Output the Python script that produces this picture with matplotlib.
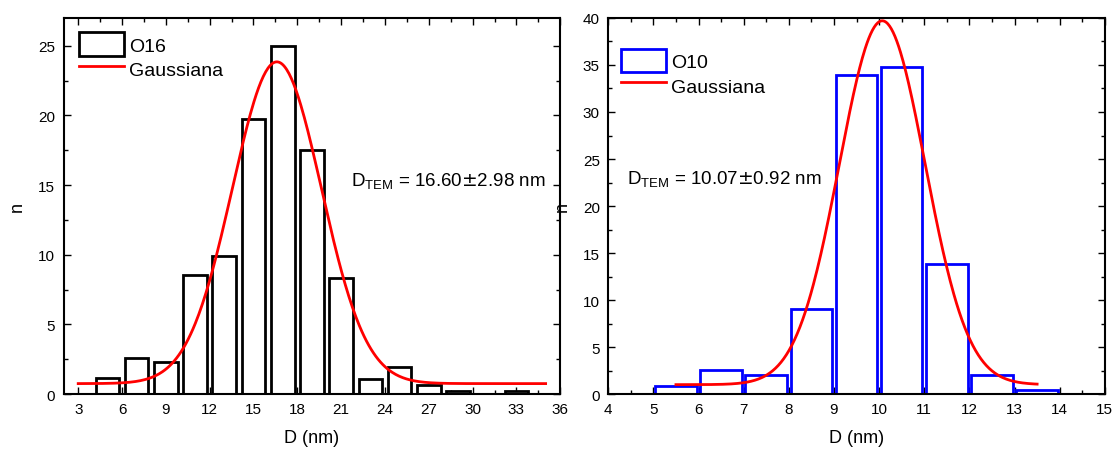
import numpy as np
import matplotlib
matplotlib.use('Agg')
import matplotlib.pyplot as plt
from matplotlib.patches import Patch
from matplotlib.lines import Line2D
from matplotlib.ticker import MultipleLocator

plt.rcParams['font.family'] = ['Liberation Sans', 'DejaVu Sans']

# O16 histogram (bin centres, counts)
o16_centres = [5, 7, 9, 11, 13, 15, 17, 19, 21, 23, 25, 27, 29, 31, 33]
o16_counts = [1.15, 2.58, 2.27, 8.56, 9.9, 19.78, 25.0, 17.49, 8.3, 1.08, 1.91, 0.67, 0.24, 0.0, 0.19]
# gaussian fit: centre, sigma, amplitude, offset, x range
o16_fit = dict(xc=16.6, sigma=3.05, amp=23.1, y0=0.75, x0=3, x1=35)

# O10 histogram
o10_centres = [5.5, 6.5, 7.5, 8.5, 9.5, 10.5, 11.5, 12.5, 13.5]
o10_counts = [0.81, 2.52, 1.98, 9.0, 33.94, 34.83, 13.78, 1.98, 0.43]
o10_fit = dict(xc=10.07, sigma=0.95, amp=38.7, y0=1.0, x0=5.5, x1=13.5)

fig = plt.figure(figsize=(11.16, 4.52), dpi=100)
ax1 = fig.add_axes([0.057, 0.126, 0.445, 0.832])
ax2 = fig.add_axes([0.545, 0.126, 0.445, 0.832])


def gauss_curve(p):
    x = np.linspace(p['x0'], p['x1'], 400)
    y = p['y0'] + p['amp'] * np.exp(-(x - p['xc']) ** 2 / (2 * p['sigma'] ** 2))
    return x, y


def style_axes(ax):
    ax.tick_params(which='both', direction='in', top=True, right=True, labelsize=11)
    ax.tick_params(which='major', length=5, width=1, pad=6)
    ax.tick_params(which='minor', length=3, width=1)
    for s in ax.spines.values():
        s.set_linewidth(1.5)
    ax.set_xlabel('D (nm)', fontsize=13, labelpad=9)
    ax.set_ylabel('n', fontsize=13, labelpad=9)


leg_kw = dict(loc='upper left', frameon=False, fontsize=14, handlelength=2.3,
              handleheight=1.5, handletextpad=0.25, labelspacing=0.05, borderaxespad=0.4)

# left panel
ax1.bar(o16_centres, o16_counts, width=1.62, facecolor='white', edgecolor='black', linewidth=2, zorder=2)
x, y = gauss_curve(o16_fit)
ax1.plot(x, y, color='red', linewidth=2, zorder=3)
ax1.set_xlim(2, 36)
ax1.set_ylim(0, 27)
ax1.xaxis.set_major_locator(MultipleLocator(3))
ax1.xaxis.set_minor_locator(MultipleLocator(1.5))
ax1.yaxis.set_major_locator(MultipleLocator(5))
ax1.yaxis.set_minor_locator(MultipleLocator(2.5))
style_axes(ax1)
ax1.text(21.7, 15.3, r'D$_{\mathregular{TEM}}$ = 16.60$\pm$2.98 nm', fontsize=13.5, va='center')
h1 = [Patch(facecolor='white', edgecolor='black', linewidth=2),
      Line2D([], [], color='red', linewidth=2)]
ax1.legend(h1, ['O16', 'Gaussiana'], bbox_to_anchor=(0.0, 1.003), **leg_kw)

# right panel
ax2.bar(o10_centres, o10_counts, width=0.92, facecolor='white', edgecolor='blue', linewidth=2, zorder=2)
x, y = gauss_curve(o10_fit)
ax2.plot(x, y, color='red', linewidth=2, zorder=3)
ax2.set_xlim(4, 15)
ax2.set_ylim(0, 40)
ax2.xaxis.set_major_locator(MultipleLocator(1))
ax2.xaxis.set_minor_locator(MultipleLocator(0.5))
ax2.yaxis.set_major_locator(MultipleLocator(5))
ax2.yaxis.set_minor_locator(MultipleLocator(2.5))
style_axes(ax2)
ax2.text(4.42, 22.9, r'D$_{\mathregular{TEM}}$ = 10.07$\pm$0.92 nm', fontsize=13.5, va='center')
h2 = [Patch(facecolor='white', edgecolor='blue', linewidth=2),
      Line2D([], [], color='red', linewidth=2)]
ax2.legend(h2, ['O10', 'Gaussiana'], bbox_to_anchor=(-0.005, 0.96), **leg_kw)

fig.savefig('out.png', dpi=100)
